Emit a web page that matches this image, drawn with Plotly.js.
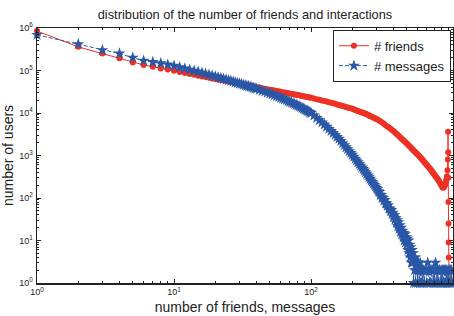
<!DOCTYPE html>
<html>
<head>
<meta charset="utf-8">
<script src="https://cdn.plot.ly/plotly-3.0.1.min.js"></script>
<style>html,body{margin:0;padding:0;background:#fff;}#chart{width:454px;height:316px;}</style>
</head>
<body>
<div id="chart"></div>
<script>
// ---- data ----
const friendsX = [1,2,3,4,5,6,7,8,9,10,11,12,13,14,15,16,17,18,19,20,
  21,22,23,24,25,26,27,28,29,30,31,32,33,34,35,36,37,38,39,40,
  42,44,46,48,50,52,54,56,58,60,62,64,66,68,70,72,74,76,78,80,82,84,86,88,90,92,94,96,98,100,
  105,110,115,120,125,130,135,140,145,150,155,160,165,170,175,180,185,190,195,200,
  205,210,215,220,225,230,235,240,245,250,255,260,265,270,275,280,285,290,295,300,
  310,320,330,340,350,360,370,380,390,400,410,420,430,440,450,460,470,480,490,500,
  510,520,530,540,550,560,570,580,590,600,610,620,630,640,650,660,670,680,690,700,
  710,720,730,740,750,760,770,780,790,800,810,820,830,840,850,860,870,880,890,900,
  910,920,930,940,950,960,970,980,990,995,1000,1002,1004,1006,1008,1010,1012,1014,1016];
const friendsY = [850000,360000,250000,195000,155000,135000,123000,112000,105000,98000,92000,87100,82800,79100,75700,72600,70000,67500,65200,63100,
  61200,59500,57800,56300,54900,53500,52300,51100,50000,48900,47900,47000,46000,45200,44400,43600,42900,42200,41500,40800,
  39600,38400,37400,36400,35400,34600,33800,33000,32300,31600,30900,30300,29800,29200,28700,28200,27700,27200,26800,26400,26000,25600,25200,24800,24500,24100,23800,23500,23200,22900,
  22000,21200,20500,19800,19200,18600,18000,17500,16900,16400,15900,15500,15000,14600,14200,13900,13500,13200,12900,12600,
  12200,11800,11500,11200,10900,10600,10300,10100,9840,9600,9330,9040,8770,8510,8270,8020,7800,7590,7380,7190,
  6830,6420,5970,5550,5170,4840,4530,4250,3990,3750,3480,3240,3020,2820,2630,2460,2310,2170,2040,1920,
  1800,1690,1580,1490,1400,1320,1250,1180,1110,1050,997,944,896,844,794,750,706,668,631,597,
  565,536,508,482,455,430,406,385,364,344,326,309,293,279,265,248,232,217,204,191,
  180,174,180,190,205,230,270,320,450,800,3600,1200,300,80,25,9,4,2,1];

const messagesX = [1,2,3,4,5,6,7,8,9,10,11,12,13,14,15,16,17,18,19,20,
  21,22,23,24,25,26,27,28,29,30,31,32,33,34,35,36,37,38,39,40,
  42,44,46,48,50,52,54,56,58,60,62,64,66,68,70,72,74,76,78,80,82,84,86,88,90,92,94,96,98,100,
  105,110,115,120,125,130,135,140,145,150,155,160,165,170,175,180,185,190,195,200,
  205,210,215,220,225,230,235,240,245,250,255,260,265,270,275,280,285,290,295,300,
  305,310,315,320,325,330,335,340,345,350,355,360,365,370,375,380,385,390,395,400,
  405,410,415,420,425,430,435,440,445,450,455,460,465,470,475,480,485,490,495,500,
  505,510,515,520,525,530,535,540,545,550,555,560,565,570,575,580,585,590,595,600,
  605,610,615,620,625,630,635,640,645,650,
  660,670,680,690,700,710,720,730,740,750,760,770,780,790,800,810,820,830,840,850,
  860,870,880,890,900,910,920,930,940,950,960,970,980,990,1000,1010,1020,1030,1040,1050,1060,1070];
const messagesY = [690000,417000,302000,251000,200000,170000,158000,148000,138000,129000,119000,111000,104000,98400,93100,88500,83700,79400,75700,72300,
  69200,66400,63700,61400,59100,56900,54800,52800,51000,49300,47700,46200,44800,43500,42300,41100,40000,38900,37900,37000,
  35000,33300,31700,30300,28900,27500,26200,25000,23900,22800,21900,20900,20000,19100,18300,17500,16800,16200,15600,14900,14300,13700,13100,12600,12100,11600,11200,10800,10400,10000,
  8730,7660,6760,6000,5360,4750,4230,3780,3390,3050,2750,2480,2200,1960,1750,1560,1410,1270,1150,1040,
  934,845,766,695,632,577,526,482,442,406,371,339,310,283,260,239,220,203,187,173,
  160,145,138,120,118,104,100,88,90,76,74,66,68,57,56,50,52,43,45,36,
  40,31,34,26,30,22,27,19,23,16,20,14,17,12,15,10,14,9,12,8,
  11,6,10,5,8,4,7,3,6,3,5,1,4,2,4,1,3,2,3,1,
  3,2,2,1,3,2,1,2,2,1,
  2,1,2,2,1,3,2,1,2,1,2,2,1,2,1,3,2,1,2,1,
  2,2,1,2,1,2,1,2,2,1,2,1,2,1,2,1,2,1,2,1,2,1];

const xTickVals = [1,10,100,1000];
const xTickText = ['10<sup>0</sup>','10<sup>1</sup>','10<sup>2</sup>','10<sup>3</sup>'];
const yTickVals = [1,10,100,1000,10000,100000,1000000];
const yTickText = ['10<sup>0</sup>','10<sup>1</sup>','10<sup>2</sup>','10<sup>3</sup>','10<sup>4</sup>','10<sup>5</sup>','10<sup>6</sup>'];

const RED = '#ee3124';
const BLUE = '#2a57a6';
const FONT = 'Liberation Sans, Arial, sans-serif';

const traces = [
  {x: friendsX, y: friendsY, name: '# friends', type: 'scatter', mode: 'lines+markers',
   line: {color: RED, width: 1}, marker: {symbol: 'circle', size: 6, color: RED}, cliponaxis: false},
  {x: messagesX, y: messagesY, name: '# messages', type: 'scatter', mode: 'lines+markers',
   line: {color: BLUE, width: 1, dash: '4px,2px'}, marker: {symbol: 'star', size: 9, color: BLUE}, cliponaxis: false}
];

const axisCommon = {
  type: 'log', showgrid: false, zeroline: false, showline: true, linecolor: '#222', linewidth: 1.5,
  mirror: 'ticks', ticks: 'inside', ticklen: 4, tickcolor: '#222', tickwidth: 1,
  tickfont: {family: FONT, size: 9, color: '#222'}, tickmode: 'array',
  minor: {dtick: 'D1', ticks: 'inside', ticklen: 2, tickcolor: '#222', tickwidth: 1, showgrid: false}
};

const layout = {
  width: 454, height: 316,
  margin: {l: 37, r: 1, t: 28, b: 33},
  paper_bgcolor: '#fff', plot_bgcolor: '#fff',
  font: {family: FONT, color: '#222'},
  title: {text: 'distribution of the number of friends and interactions', font: {family: FONT, size: 12.8, color: '#222'},
          xref: 'paper', x: 0.5, xanchor: 'center', yref: 'container', y: 0.955, yanchor: 'middle'},
  xaxis: Object.assign({}, axisCommon, {range: [0, 3.036], tickvals: xTickVals, ticktext: xTickText,
          title: {text: 'number of friends, messages', font: {family: FONT, size: 14, color: '#222'}, standoff: 6}}),
  yaxis: Object.assign({}, axisCommon, {range: [0, 6], tickvals: yTickVals, ticktext: yTickText, ticklabelstandoff: 1,
          title: {text: 'number of users', font: {family: FONT, size: 14, color: '#222'}, standoff: 4}}),
  showlegend: true,
  legend: {x: 0.995, xanchor: 'right', y: 0.993, yanchor: 'top', bgcolor: '#fff', bordercolor: '#222', borderwidth: 1,
           font: {family: FONT, size: 13, color: '#222'}, itemwidth: 30, tracegroupgap: 0}
};

Plotly.newPlot('chart', traces, layout, {staticPlot: true, displayModeBar: false});
</script>
</body>
</html>
